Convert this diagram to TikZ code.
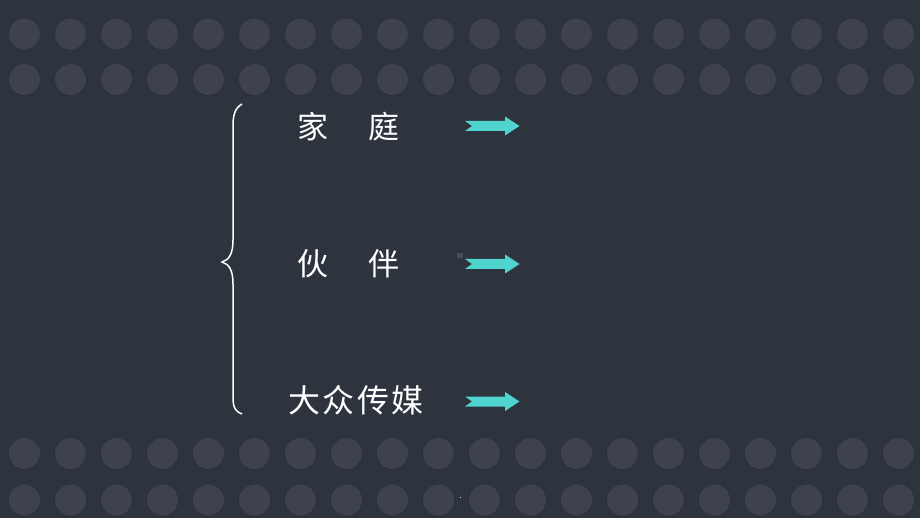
\documentclass[tikz,border=0pt]{standalone}
\usepackage{fontspec}
\newfontfamily\cjk{Noto Sans CJK SC}
\definecolor{bg}{HTML}{2E343E}
\definecolor{dot}{HTML}{3D424C}
\definecolor{dotline}{HTML}{2A2F37}
\definecolor{arrowc}{HTML}{4FD4D0}
\definecolor{speck}{HTML}{4A4F57}
\tikzset{
  dotc/.style={fill=dot,draw=dotline,line width=0.6pt},
  label/.style={text=white,font=\cjk\fontsize{31}{31}\selectfont,inner sep=0pt},
  bracec/.style={draw=white,line width=1.5pt},
  fatarrow/.style={fill=arrowc,draw=none}
}
\begin{document}
\begin{tikzpicture}[x=1pt,y=-1pt]
\fill[bg] (0,0) rectangle (920,518);
\useasboundingbox (0,0) rectangle (920,518);
\foreach \k in {0,...,19}{
  \foreach \yy in {34,79.5,453.5,500}{
    \path[dotc] (24.5+46*\k,\yy) circle (16);
  }
}
% brace
\draw[bracec] (242,104) .. controls (235,108) and (233,115) .. (233,126) -- (233,240)
  .. controls (233,254) and (229,260) .. (222,262)
  .. controls (229,264) and (233,270) .. (233,284) -- (233,398)
  .. controls (233,408) and (236,412) .. (242,414);
% labels
\node[label] (jt) at (348.5,127) {家\hspace{40pt}庭};
\node[label] (hb) at (348.5,264) {伙\hspace{40pt}伴};
\node[label,font=\cjk\fontsize{32}{32}\selectfont] (dz) at (356,400) {大\hspace{2.5pt}众\hspace{2.5pt}传\hspace{2.5pt}媒};
% arrows
\foreach \nm/\cy in {a1/126,a2/264,a3/401.5}{
  \fill[fatarrow] (465,\cy-5) -- (505,\cy-5) -- (505,\cy-9.5) -- (519.5,\cy) -- (505,\cy+9.5) -- (505,\cy+5) -- (465,\cy+5) -- (472,\cy) -- cycle;
}
\fill[speck] (457,253) rectangle (462.5,258.5);
\fill[white!80!bg] (459.5,496.5) rectangle (461,498);
\end{tikzpicture}
\end{document}
